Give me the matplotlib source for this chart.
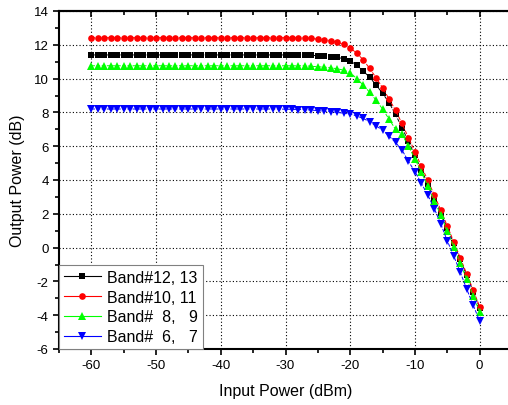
import matplotlib
matplotlib.use("agg")
import matplotlib.pyplot as plt
from matplotlib.ticker import MultipleLocator
import numpy as np

plt.rcParams['font.family'] = ['Liberation Sans', 'DejaVu Sans']

# input power sweep, 1 dB steps
pin = list(range(-60, 1))

band_12_13 = [11.40] * 34 + [
    11.38, 11.35, 11.33, 11.30, 11.25, 11.18, 11.05, 10.80, 10.45, 10.08,
    9.62, 9.13, 8.58, 7.88, 7.10, 6.28, 5.45, 4.60, 3.75, 2.90,
    2.05, 1.15, 0.25, -0.70, -1.65, -2.60, -3.55]
band_10_11 = [12.42] * 34 + [
    12.38, 12.33, 12.30, 12.25, 12.15, 12.03, 11.82, 11.50, 11.12, 10.60,
    10.05, 9.45, 8.80, 8.12, 7.35, 6.50, 5.68, 4.80, 3.98, 3.10,
    2.22, 1.28, 0.35, -0.60, -1.55, -2.50, -3.50]
band_8_9 = [10.76] * 34 + [
    10.73, 10.70, 10.68, 10.64, 10.58, 10.50, 10.36, 10.00, 9.62, 9.19,
    8.72, 8.20, 7.60, 7.00, 6.70, 6.00, 5.25, 4.45, 3.62, 2.78,
    1.90, 0.98, 0.05, -0.92, -1.88, -2.85, -3.80]
band_6_7 = [8.20] * 30 + [
    8.19, 8.18, 8.17, 8.16, 8.14, 8.10, 8.07, 8.04, 8.00, 7.95,
    7.90, 7.79, 7.64, 7.45, 7.20, 6.95, 6.60, 6.22, 5.78, 5.10,
    4.50, 3.80, 3.10, 2.30, 1.40, 0.40, -0.50, -1.45, -2.45, -3.40,
    -4.35]

series = [
    (band_12_13, "Band#12, 13", "black", "s", 4.2),
    (band_10_11, "Band#10, 11", "red", "o", 4.8),
    (band_8_9, "Band#  8,   9", "#00ff00", "^", 5.2),
    (band_6_7, "Band#  6,   7", "blue", "v", 5.2),
]

fig = plt.figure(figsize=(5.08, 4.06), dpi=100)
ax = fig.add_axes([59 / 508, 1 - 350 / 406, 453 / 508, 338 / 406])

for vals, lab, col, mk, ms in series:
    ax.plot(pin, vals, color=col, linestyle="--", linewidth=0.7,
            marker=mk, markersize=ms, markeredgewidth=0, label=lab)

ax.set_xlim(-65, 5)
ax.set_ylim(-6, 14)
ax.set_xticks(np.arange(-60, 1, 10))
ax.set_xticklabels(["-60", "-50", "-40", "-30", "-20", "-10", "0"])
ax.xaxis.set_minor_locator(MultipleLocator(5))
ax.set_yticks(np.arange(-6, 15, 2))
ax.set_yticklabels([str(v) for v in range(-6, 15, 2)])
ax.yaxis.set_minor_locator(MultipleLocator(1))

ax.tick_params(axis="both", which="both", direction="out", labelsize=9.5, width=1.2)
ax.tick_params(axis="both", which="major", length=4)
ax.tick_params(axis="both", which="minor", length=3)

# top axis: ticks pointing into the plot, no labels
top = ax.secondary_xaxis("top")
top.set_xticks(np.arange(-60, 1, 10))
top.xaxis.set_minor_locator(MultipleLocator(5))
top.tick_params(which="both", direction="in", labeltop=False, width=1.2)
top.tick_params(which="major", length=4)
top.tick_params(which="minor", length=3)
top.spines["top"].set_linewidth(1.5)

for s in ax.spines.values():
    s.set_linewidth(1.5)

ax.grid(True, which="major", color="black", linestyle=(0, (1, 2)), linewidth=0.8)

ax.set_xlabel("Input Power (dBm)", fontsize=11.5, labelpad=8)
ax.set_ylabel("Output Power (dB)", fontsize=11.5, labelpad=6)

leg = ax.legend(loc="lower left", borderaxespad=0, fontsize=11.5, fancybox=False,
                edgecolor="gray", framealpha=1, handlelength=2.3, labelspacing=0.3,
                numpoints=1, borderpad=0.3, handletextpad=0.4)
leg.get_frame().set_linewidth(0.8)
for h in leg.get_lines():
    h.set_linestyle("-")
    h.set_linewidth(0.8)

fig.savefig("out.png", dpi=100)
